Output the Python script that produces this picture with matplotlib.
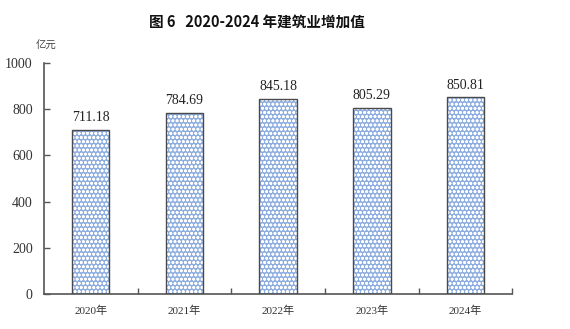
import matplotlib
matplotlib.use("Agg")
import matplotlib.pyplot as plt
import numpy as np

years = ["2020年", "2021年", "2022年", "2023年", "2024年"]
values = [711.18, 784.69, 845.18, 805.29, 850.81]
yticks = [0, 200, 400, 600, 800, 1000]
title = "图 6   2020-2024 年建筑业增加值"
unit = "亿元"

serif_cjk = ["Liberation Serif", "Noto Sans CJK SC"]
plt.rcParams["hatch.linewidth"] = 0.8

fig = plt.figure(figsize=(5.7, 3.29), dpi=100)
ax = fig.add_axes([0.077, 0.106, 0.822, 0.703])
x = np.arange(len(years))

ax.bar(x, values, width=0.4, color="#8eaee0", edgecolor="white",
       hatch="oooo", linewidth=0, zorder=2)
ax.bar(x, values, width=0.4, fill=False, edgecolor="#4a4a4a",
       linewidth=1.0, zorder=3)

for xi, v in zip(x, values):
    ax.text(xi, v + 25, f"{v:.2f}", ha="center", va="bottom",
            fontsize=10, family=serif_cjk, color="#222222")

ax.set_xlim(-0.5, 4.5)
ax.set_ylim(0, 1000)
ax.set_yticks(yticks)
ax.set_yticklabels([str(t) for t in yticks], family=serif_cjk, fontsize=10, color="#333333")
ax.set_xticks(x)
ax.set_xticklabels(years, family=serif_cjk, fontsize=8, color="#333333")
ax.set_xticks(np.arange(0.5, 5, 1.0), minor=True)
ax.tick_params(axis="x", which="major", length=0, pad=8)
ax.tick_params(axis="x", which="minor", direction="in", length=4, color="#555555", width=1)
ax.tick_params(axis="y", direction="in", length=4, color="#555555", width=1, pad=8)

for s in ["top", "right"]:
    ax.spines[s].set_visible(False)
for s in ["left", "bottom"]:
    ax.spines[s].set_color("#555555")
    ax.spines[s].set_linewidth(1.2)

fig.text(0.45, 0.935, title, ha="center", va="center", fontsize=10.5,
         fontweight="bold", family=["Noto Sans CJK SC"], color="#111111")
fig.text(0.08, 0.86, unit, ha="center", va="center", fontsize=7.5,
         family=["Noto Sans CJK SC"], color="#444444")

fig.savefig("out.png", dpi=100)
